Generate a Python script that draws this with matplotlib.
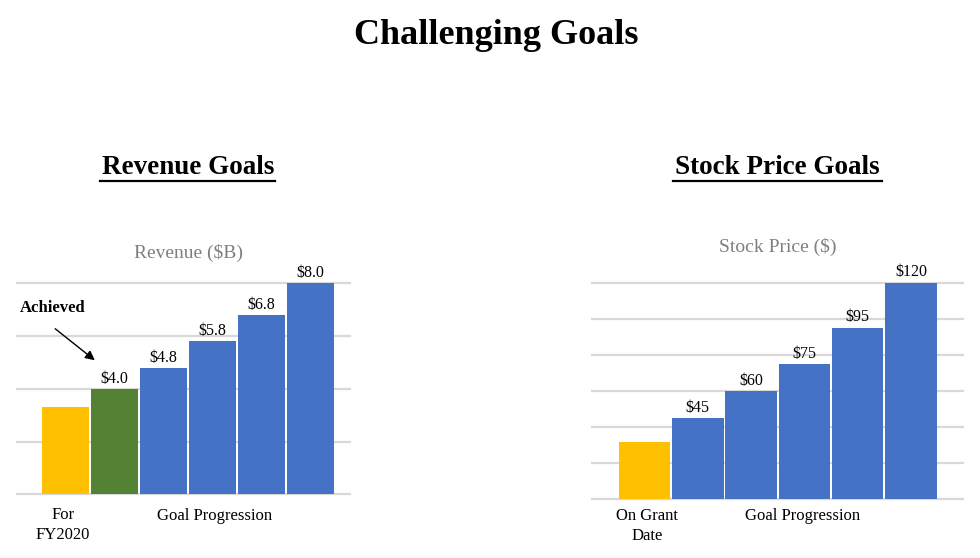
import matplotlib.pyplot as plt
from matplotlib.lines import Line2D

plt.rcParams['font.family'] = ['Liberation Serif', 'DejaVu Serif']

# revenue goals ($B)
rev_values = [3.3, 4.0, 4.8, 5.8, 6.8, 8.0]
rev_labels = ['', '$4.0', '$4.8', '$5.8', '$6.8', '$8.0']
rev_colors = ['#FFC000', '#548235', '#4472C4', '#4472C4', '#4472C4', '#4472C4']
rev_ticks = [0, 2, 4, 6, 8]

# stock price goals ($)
stock_values = [32, 45, 60, 75, 95, 120]
stock_labels = ['', '$45', '$60', '$75', '$95', '$120']
stock_colors = ['#FFC000', '#4472C4', '#4472C4', '#4472C4', '#4472C4', '#4472C4']
stock_ticks = [0, 20, 40, 60, 80, 100, 120]

W, H = 980, 558
fig = plt.figure(figsize=(W / 100, H / 100), dpi=100)


def fx(x):
    return x / W


def fy(y):
    return 1 - y / H


def panel(rect, values, labels, colors, ticks, xlim, width, pad):
    ax = fig.add_axes(rect)
    x = range(len(values))
    ax.bar(x, values, width=width, color=colors, zorder=2)
    for i, (v, lab) in enumerate(zip(values, labels)):
        if lab:
            ax.text(i, v + pad, lab, ha='center', va='bottom', fontsize=11.5,
                    color='#000000', clip_on=False)
    ax.set_xlim(*xlim)
    ax.set_ylim(0, ticks[-1])
    ax.set_yticks(ticks)
    ax.yaxis.grid(True, color='#d9d9d9', linewidth=1.6)
    for gl in ax.get_ygridlines():
        gl.set_clip_on(False)
    ax.set_xticks([])
    ax.tick_params(left=False, labelleft=False)
    for s in ax.spines.values():
        s.set_visible(False)
    ax.set_axisbelow(True)
    return ax


ax1 = panel([fx(17), fy(494.3), fx(333), 211 / H], rev_values, rev_labels,
            rev_colors, rev_ticks, (-0.99, 5.81), 0.96, 0.08)
ax2 = panel([fx(591.7), fy(499.3), fx(371.6), 216.6 / H], stock_values, stock_labels,
            stock_colors, stock_ticks, (-0.99, 5.98), 0.965, 1.3)

# titles
fig.text(fx(496), fy(35), 'Challenging Goals', ha='center', va='center',
         fontsize=26, fontweight='bold')
fig.text(fx(188), fy(167), 'Revenue Goals', ha='center', va='center',
         fontsize=19.5, fontweight='bold')
fig.text(fx(777), fy(167), 'Stock Price Goals', ha='center', va='center',
         fontsize=19.5, fontweight='bold')
fig.add_artist(Line2D([fx(100), fx(275)], [fy(181), fy(181)], color='black', linewidth=1.6))
fig.add_artist(Line2D([fx(673), fx(882)], [fy(181), fy(181)], color='black', linewidth=1.6))

fig.text(fx(188), fy(253), 'Revenue ($B)', ha='center', va='center',
         fontsize=14, color='#7f7f7f')
fig.text(fx(778), fy(247), 'Stock Price ($)', ha='center', va='center',
         fontsize=14, color='#7f7f7f')

# category labels
fig.text(fx(63), fy(515), 'For', ha='center', va='center', fontsize=12)
fig.text(fx(63), fy(535), 'FY2020', ha='center', va='center', fontsize=12)
fig.text(fx(215), fy(516), 'Goal Progression', ha='center', va='center', fontsize=12)
fig.text(fx(647), fy(516), 'On Grant', ha='center', va='center', fontsize=12)
fig.text(fx(647), fy(536), 'Date', ha='center', va='center', fontsize=12)
fig.text(fx(803), fy(516), 'Goal Progression', ha='center', va='center', fontsize=12)

# achieved callout
fig.text(fx(20), fy(308), 'Achieved', ha='left', va='center', fontsize=12,
         fontweight='bold')
fig.add_artist(plt.Annotation('', xy=(fx(97), fy(362)), xytext=(fx(53), fy(327)),
                              xycoords='figure fraction',
                              arrowprops=dict(arrowstyle='-|>', color='black',
                                              lw=1, mutation_scale=14)))

fig.savefig('out.png', dpi=100, facecolor='white')
